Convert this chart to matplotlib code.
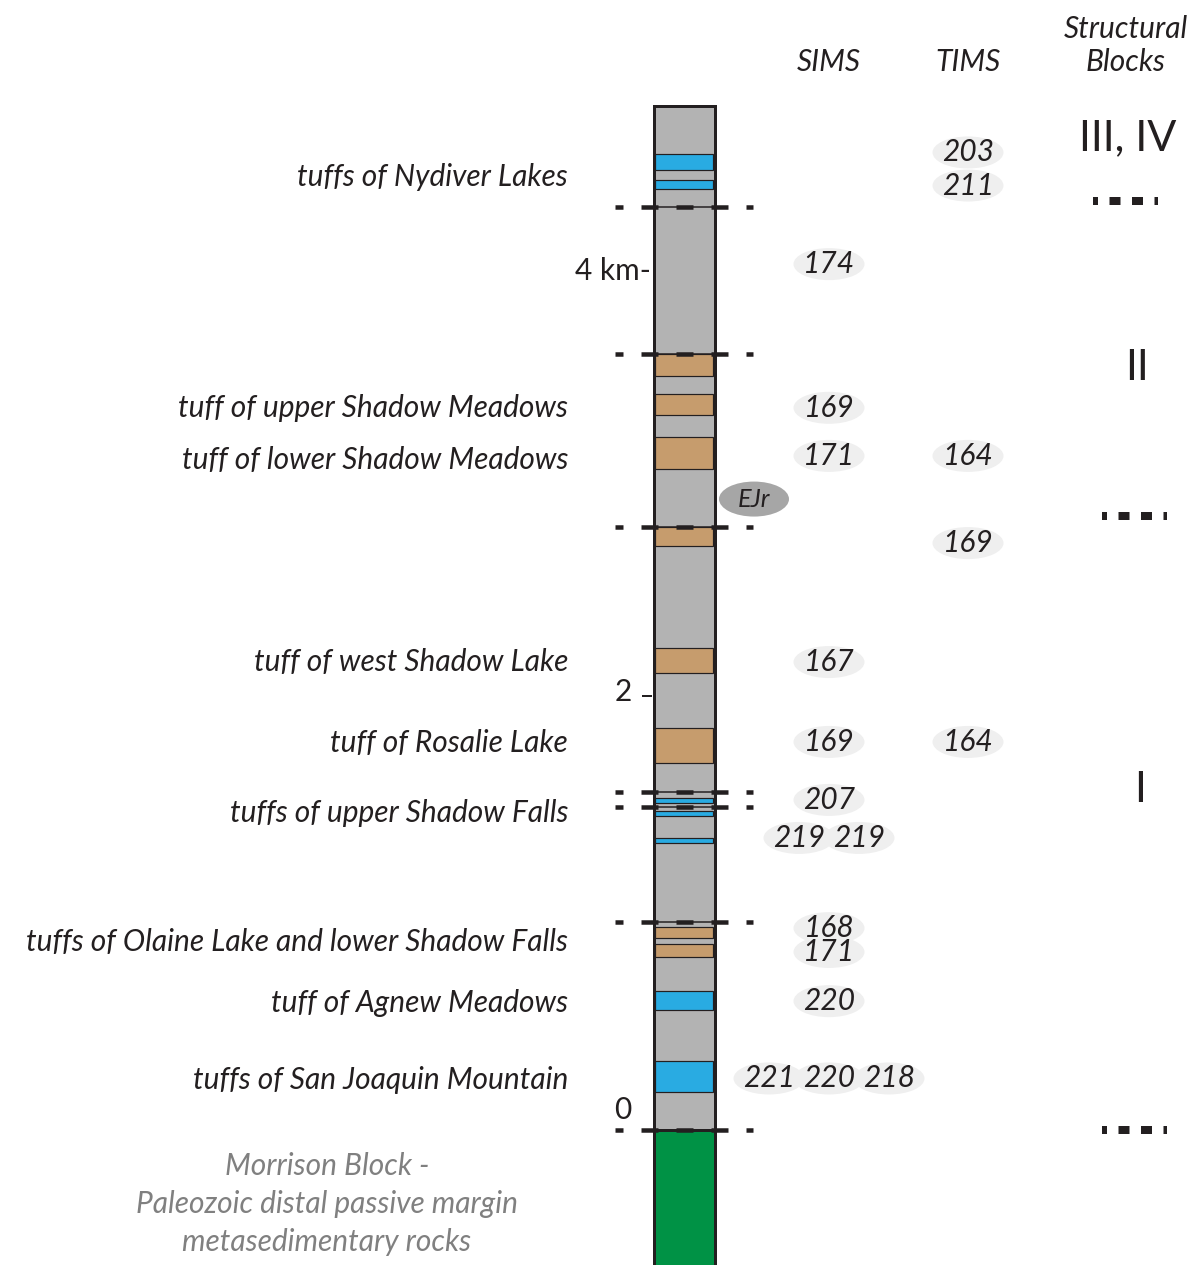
import matplotlib
matplotlib.use("Agg")
import matplotlib.pyplot as plt
from matplotlib.patches import Rectangle, Ellipse

plt.rcParams['lines.scale_dashes'] = False
FONT = ['Lato', 'DejaVu Sans']
plt.rcParams['font.family'] = FONT

# ---------------- data (km above base of section) ----------------
column_top = 4.77
section_base = 0.0
# layers: (bottom_km, top_km, kind)
layer_bottom = [4.47, 4.38, 3.51, 3.33, 3.08, 2.72, 2.13, 1.71, 1.523, 1.462, 1.336, 0.894, 0.806, 0.559, 0.177]
layer_top    = [4.545, 4.424, 3.613, 3.427, 3.229, 2.808, 2.244, 1.872, 1.546, 1.485, 1.360, 0.945, 0.866, 0.647, 0.321]
layer_kind   = ['blue', 'blue', 'tan', 'tan', 'tan', 'tan', 'tan', 'tan', 'blue', 'blue', 'blue', 'tan', 'tan', 'blue', 'blue']

# block boundaries (dashed lines)
boundaries = [4.298, 3.613, 2.808, 1.574, 1.504, 0.969, 0.0]

# unit names
unit_names = ["tuffs of Nydiver Lakes", "tuff of upper Shadow Meadows", "tuff of lower Shadow Meadows",
              "tuff of west Shadow Lake", "tuff of Rosalie Lake", "tuffs of upper Shadow Falls",
              "tuffs of Olaine Lake and lower Shadow Falls", "tuff of Agnew Meadows",
              "tuffs of San Joaquin Mountain"]
unit_name_km = [4.44, 3.363, 3.12, 2.18, 1.80, 1.475, 0.875, 0.59, 0.235]

# ages (Ma)
sims_ages = [174, 169, 171, 167, 169, 207, 219, 219, 168, 171, 220, 221, 220, 218]
sims_km   = [4.032, 3.363, 3.139, 2.179, 1.807, 1.537, 1.36, 1.36, 0.94, 0.829, 0.6, 0.24, 0.24, 0.24]
sims_slot = [0, 0, 0, 0, 0, 0, -0.5, 0.5, 0, 0, 0, -1, 0, 1]
tims_ages = [203, 211, 164, 169, 164]
tims_km   = [4.552, 4.398, 3.139, 2.733, 1.807]

# structural blocks
block_names = ["III, IV", "II", "I"]
block_km = [4.619, 3.548, 1.583]
block_sep_km = [4.326, 2.859, 0.0]

# depth scale ticks
scale_ticks = [0, 2, 4]

# EJr marker
ejr_km = 2.938

# ---------------- styling ----------------
C_GRAY = '#b3b3b3'
C_BLUE = '#29abe2'
C_TAN = '#c69c6d'
C_GREEN = '#009245'
C_INK = '#231f20'
C_PILL = '#efefef'
colors = {'blue': C_BLUE, 'tan': C_TAN}

W, H = 1197, 1265
PX_PER_KM = 214.75
Y0 = 1130  # pixel row of km 0
km_top = Y0 / PX_PER_KM
km_bot = (Y0 - H) / PX_PER_KM

fig = plt.figure(figsize=(W / 100, H / 100), dpi=100)
ax = fig.add_axes([0, 0, 1, 1])
ax.set_xlim(0, W)
ax.set_ylim(km_bot, km_top)
ax.axis('off')

PT = 0.72  # points per pixel at 100 dpi
FS = 21.5

col_l, col_r = 653.5, 714.5

# green basement
ax.add_patch(Rectangle((col_l, km_bot - 0.1), col_r - col_l, section_base - km_bot + 0.1,
                       facecolor=C_GREEN, edgecolor=C_INK, lw=3 * PT, zorder=1))
# gray column
ax.add_patch(Rectangle((col_l, section_base), col_r - col_l, column_top - section_base,
                       facecolor=C_GRAY, edgecolor=C_INK, lw=3 * PT, zorder=2))
# layers
for b, t, k in zip(layer_bottom, layer_top, layer_kind):
    ax.add_patch(Rectangle((col_l + 1.5, b), col_r - col_l - 3, t - b,
                           facecolor=colors[k], edgecolor=C_INK, lw=1.2 * PT, zorder=3))
# re-draw column sides on top
ax.plot([col_l, col_l], [km_bot - 0.1, column_top], color=C_INK, lw=3 * PT, zorder=4)
ax.plot([col_r, col_r], [km_bot - 0.1, column_top], color=C_INK, lw=3 * PT, zorder=4)
ax.plot([col_l, col_r], [column_top, column_top], color=C_INK, lw=3 * PT, zorder=4,
        solid_capstyle='projecting')

# block boundaries
for y in boundaries:
    ax.plot([col_l, col_r], [y, y], color=C_INK, lw=1.5 * PT, zorder=4)
    ax.plot([615, 753], [y, y], color=C_INK, lw=4.5 * PT, zorder=5,
            linestyle=(9 * PT, (17 * PT, 18 * PT)), dash_capstyle='butt')

# EJr
ax.add_patch(Ellipse((754, ejr_km), 70, 35 / PX_PER_KM, facecolor='#a6a6a6', edgecolor='none', zorder=5))
ax.text(754, ejr_km, "EJr", ha='center', va='center', fontsize=FS * 0.85, style='italic',
        color=C_INK, zorder=6)

# unit names
for name, y in zip(unit_names, unit_name_km):
    ax.text(568, y, name, ha='right', va='center', fontsize=FS, style='italic', color=C_INK)

# age pills
def pill(x, y, val):
    ax.add_patch(Ellipse((x, y), 71, 32 / PX_PER_KM, facecolor=C_PILL, edgecolor='none', zorder=5))
    ax.text(x, y, str(val), ha='center', va='center', fontsize=FS, style='italic', color=C_INK, zorder=6)

SIMS_X, TIMS_X = 829, 968
for a, y, s in zip(sims_ages, sims_km, sims_slot):
    pill(SIMS_X + s * 60, y, a)
for a, y in zip(tims_ages, tims_km):
    pill(TIMS_X, y, a)

# headers
ax.text(SIMS_X, 4.975, "SIMS", ha='center', va='center', fontsize=FS, style='italic', color=C_INK)
ax.text(TIMS_X, 4.975, "TIMS", ha='center', va='center', fontsize=FS, style='italic', color=C_INK)
ax.text(1126, 5.05, "Structural\nBlocks", ha='center', va='center', fontsize=FS, style='italic',
        color=C_INK, linespacing=1.25)

# structural blocks
block_x = {"III, IV": 1128, "II": 1137, "I": 1140}
for name, y in zip(block_names, block_km):
    ax.text(block_x[name], y, name, ha='center', va='center', fontsize=31, color=C_INK)
for i, y in enumerate(block_sep_km):
    x0 = 1093 if i == 0 else 1102
    ax.plot([x0, x0 + 65], [y, y], color=C_INK, lw=8 * PT, zorder=5,
            linestyle=(6 * PT, (11 * PT, 11.5 * PT)), dash_capstyle='butt')

# depth scale
for t in scale_ticks:
    if t == 4:
        ax.text(651, t, "4 km-", ha='right', va='center', fontsize=FS, color=C_INK)
    elif t == 2:
        ax.text(623, t + 0.04, "2", ha='center', va='center', fontsize=FS, color=C_INK)
        ax.plot([643, 651], [t + 0.02, t + 0.02], color=C_INK, lw=2 * PT)
    else:
        ax.text(623, t + 20 / PX_PER_KM, "0", ha='center', va='center', fontsize=FS, color=C_INK)

# basement caption
ax.text(327, -0.345, "Morrison Block -\nPaleozoic distal passive margin\nmetasedimentary rocks",
        ha='center', va='center', fontsize=FS, style='italic', color='#808080', linespacing=1.42)

fig.savefig("out.png", dpi=100)
